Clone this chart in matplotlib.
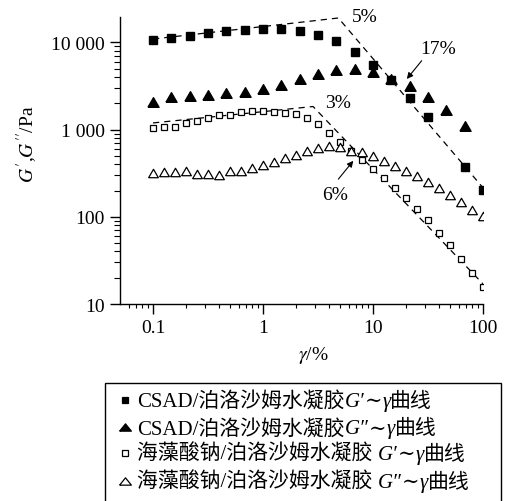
import matplotlib
matplotlib.use('Agg')
import matplotlib.pyplot as plt
from matplotlib.lines import Line2D
from matplotlib.patches import Rectangle
from matplotlib.offsetbox import TextArea, DrawingArea, HPacker, AnchoredOffsetbox
from matplotlib.ticker import LogLocator, FixedLocator, FixedFormatter, NullFormatter

plt.rcParams['font.family'] = ['Liberation Serif', 'DejaVu Serif', 'Noto Sans CJK SC']
plt.rcParams['mathtext.fontset'] = 'stix'

# strain (%) - CSAD gel, 6 points per decade
csad_gp_x = [0.1, 0.147, 0.215, 0.316, 0.464, 0.681, 1.0, 1.47, 2.15, 3.16, 4.64, 6.81,
             10, 14.7, 21.5, 31.6, 68.1, 100]
csad_gp_y = [10540, 11100, 11900, 12700, 13370, 13940, 14390, 14280, 13550, 12220, 10260, 7800,
             5530, 3650, 2320, 1390, 370, 202]
csad_gpp_x = [0.1, 0.147, 0.215, 0.316, 0.464, 0.681, 1.0, 1.47, 2.15, 3.16, 4.64, 6.81,
              10, 14.7, 21.5, 31.6, 46.4, 68.1]
csad_gpp_y = [2083, 2378, 2443, 2489, 2603, 2713, 2938, 3238, 3793, 4296, 4775, 4900,
              4530, 3800, 3126, 2378, 1675, 1089]

# strain (%) - sodium alginate gel, 10 points per decade
sa_x = [0.1, 0.126, 0.158, 0.2, 0.251, 0.316, 0.398, 0.501, 0.631, 0.794,
        1.0, 1.26, 1.58, 2.0, 2.51, 3.16, 3.98, 5.01, 6.31, 7.94,
        10, 12.6, 15.8, 20.0, 25.1, 31.6, 39.8, 50.1, 63.1, 79.4, 100]
sa_gp_y = [1040, 1069, 1069, 1189, 1263, 1355, 1479, 1479, 1575, 1630,
           1617, 1600, 1546, 1506, 1344, 1156, 904, 713, 567, 447,
           352, 278, 213, 163, 123, 92, 66, 47, 32.5, 22.9, 15.7]
sa_gpp_y = [317, 328, 328, 334, 309, 309, 298, 334, 334, 367,
            392, 424, 468, 517, 567, 622, 647, 630, 571, 548,
            493, 439, 385, 337, 291, 252, 213, 177, 146, 119, 103]

# dashed guide lines (linear region / breakdown)
csad_knee_x = [0.1, 4.84, 100]
csad_knee_y = [10900, 19000, 215]
sa_knee_x = [0.1, 2.85, 100]
sa_knee_y = [1190, 1836, 17]

x_ticks = [0.1, 1, 10, 100]
x_ticklabels = ['0.1', '1', '10', '100']
y_ticks = [10, 100, 1000, 10000]
y_ticklabels = ['10', '100', '1 000', '10 000']

legend_rows = [
    [("CSAD/泊洛沙姆水凝胶", False), ("G′", True), ("∼", False), ("γ", True), ("曲线", False)],
    [("CSAD/泊洛沙姆水凝胶", False), ("G″", True), ("∼", False), ("γ", True), ("曲线", False)],
    [("海藻酸钠/泊洛沙姆水凝胶 ", False), ("G′", True), ("∼", False), ("γ", True), ("曲线", False)],
    [("海藻酸钠/泊洛沙姆水凝胶 ", False), ("G″", True), ("∼", False), ("γ", True), ("曲线", False)],
]

# closed triangle outlines (equilateral for plot, flatter for legend glyphs)
tri = [(-1, -0.866), (1, -0.866), (0, 0.866), (-1, -0.866)]
flat_tri = [(-1, -0.62), (1, -0.62), (0, 0.62), (-1, -0.62)]

fig = plt.figure(figsize=(5.14, 5.02), dpi=100)
ax = fig.add_axes([120/514, 197/502, 363/514, 287/502])
ax.set_xscale('log')
ax.set_yscale('log')

ax.plot(csad_knee_x, csad_knee_y, color='k', lw=0.9, ls=(0, (5, 4)), zorder=1)
ax.plot(sa_knee_x, sa_knee_y, color='k', lw=0.9, ls=(0, (5, 4)), zorder=1)

ax.plot(csad_gp_x, csad_gp_y, ls='none', marker='s', ms=6, color='k', zorder=3)
ax.plot(csad_gpp_x, csad_gpp_y, ls='none', marker=tri, ms=8, color='k', zorder=3)
ax.plot(sa_x, sa_gp_y, ls='none', marker='s', ms=4.4, mfc='white', mec='k', mew=0.9, zorder=3)
ax.plot(sa_x, sa_gpp_y, ls='none', marker=tri, ms=7, mfc='white', mec='k', mew=0.9, zorder=3)

ax.set_xlim(0.0501, 100)
ax.set_ylim(10, 19500)

ax.xaxis.set_major_locator(FixedLocator(x_ticks))
ax.xaxis.set_major_formatter(FixedFormatter(x_ticklabels))
ax.yaxis.set_major_locator(FixedLocator(y_ticks))
ax.yaxis.set_major_formatter(FixedFormatter(y_ticklabels))
ax.xaxis.set_minor_locator(LogLocator(base=10, subs=range(2, 10), numticks=20))
ax.yaxis.set_minor_locator(LogLocator(base=10, subs=range(2, 10), numticks=20))
ax.xaxis.set_minor_formatter(NullFormatter())
ax.yaxis.set_minor_formatter(NullFormatter())

for s in ['top', 'right']:
    ax.spines[s].set_visible(False)
for s in ['left', 'bottom']:
    ax.spines[s].set_linewidth(1.0)
ax.tick_params(which='major', direction='out', length=7, width=1.0, labelsize=14, pad=4)
ax.tick_params(axis='x', which='minor', direction='out', length=3.2, width=0.8)
ax.tick_params(axis='y', which='minor', direction='out', length=4.5, width=0.8)

# annotations
ax.text(8.46, 19770, '5%', ha='center', va='center', fontsize=14)
ax.text(39, 8380, '17%', ha='center', va='center', fontsize=14)
ax.text(4.8, 2066, '3%', ha='center', va='center', fontsize=14)
ax.text(4.51, 182, '6%', ha='center', va='center', fontsize=14)
arrow = dict(arrowstyle='-|>', color='k', lw=0.8, mutation_scale=9, shrinkA=0, shrinkB=0)
ax.annotate('', xy=(20.3, 3800), xytext=(27.7, 6150), arrowprops=arrow)
ax.annotate('', xy=(6.62, 438), xytext=(4.84, 270), arrowprops=arrow)

fig.text(27/514, 1 - 144/502, r"$G'$,$G''$/Pa", rotation=90, ha='center', va='center', fontsize=14)
fig.text(313.5/514, 1 - 356/502, r'$\gamma$/%', ha='center', va='center', fontsize=14)

# legend box (runs off the bottom edge)
fig.add_artist(Rectangle((105/514, -0.05), (501 - 105)/514, 0.05 + 1 - 384/502,
                         transform=fig.transFigure, fill=False, ec='k', lw=1.0))

marker_styles = [('s', 4.8, 'k'), (flat_tri, 8.5, 'k'), ('s', 4.8, 'white'), (flat_tri, 8.5, 'white')]
baselines = [409, 436.5, 462, 490]
for pieces, (mk, ms, fc), base in zip(legend_rows, marker_styles, baselines):
    da = DrawingArea(14, 9, 0, 0)
    da.add_artist(Line2D([5], [4.4], ls='none', marker=mk, ms=ms, mfc=fc, mec='k', mew=0.9))
    items = [da]
    for txt, italic in pieces:
        items.append(TextArea(txt, textprops=dict(fontsize=15, style='italic' if italic else 'normal')))
    row = HPacker(children=items, align='baseline', pad=0, sep=0)
    box = AnchoredOffsetbox(loc='lower left', child=row, pad=0, borderpad=0, frameon=False,
                            bbox_to_anchor=(118/514, 1 - (base + 3)/502),
                            bbox_transform=fig.transFigure)
    fig.add_artist(box)

fig.savefig('out.png', dpi=100)
